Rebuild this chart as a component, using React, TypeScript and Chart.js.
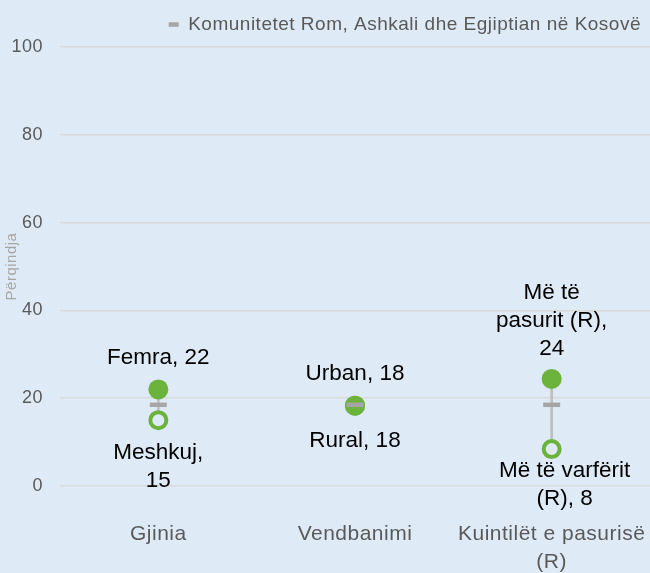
import React, { useEffect, useRef } from "react";
import { Chart, registerables } from "chart.js";

Chart.register(...registerables);

// ---- data ----
const categories: (string | string[])[] = ["Gjinia", "Vendbanimi", ["Kuintilët e pasurisë", "(R)"]];
const totalValues = [18.5, 18.5, 18.5];
const highValues = [22, 18.3, 24.4];
const lowValues = [15, 18.3, 8.4];
const highLabels = [["Femra, 22"], ["Urban, 18"], ["Më të", "pasurit (R),", "24"]];
const lowLabels = [["Meshkuj,", "15"], ["Rural, 18"], ["Më të varfërit", "(R), 8"]];
const yTicks = [0, 20, 40, 60, 80, 100];
const seriesName = "Komunitetet Rom, Ashkali dhe Egjiptian në Kosovë";
const axisTitle = "Përqindja";

// ---- styles ----
const FONT = '"Liberation Sans", Arial, sans-serif';
const BG = "#deebf7";
const GREEN = "#6cb33e";
const DASH = "#a6a6a6";
const RANGE = "#bfbfbf";
const GRID = "#d9d9d9";
const TEXT = "#595959";

const spacingPlugin = {
  id: "spacing",
  beforeLayout(chart: any) {
    chart.ctx.letterSpacing = "0.5px";
  },
  afterLayout(chart: any) {
    const lg = chart.legend;
    if (lg) {
      lg.left += 9;
      lg.right += 9;
      lg.top -= 3;
      lg.bottom -= 3;
    }
  },
  beforeDraw(chart: any) {
    chart.ctx.letterSpacing = "0.5px";
  },
};

const labelPlugin = {
  id: "pointLabels",
  afterDatasetsDraw(chart: any, _args: any, opts: any) {
    const ctx = chart.ctx;
    ctx.save();
    ctx.letterSpacing = "0px";
    ctx.font = `22.5px ${FONT}`;
    ctx.fillStyle = "#000000";
    ctx.textAlign = "center";
    ctx.textBaseline = "middle";
    const lh = opts.lineHeight;
    const hi = chart.getDatasetMeta(1).data;
    const lo = chart.getDatasetMeta(2).data;
    hi.forEach((p: any, i: number) => {
      const lines = highLabels[i];
      const off = opts.high[i];
      const lastY = p.y + off.dy;
      lines.forEach((t, j) => {
        ctx.fillText(t, p.x + off.dx, lastY - (lines.length - 1 - j) * lh);
      });
    });
    lo.forEach((p: any, i: number) => {
      const lines = lowLabels[i];
      const off = opts.low[i];
      const firstY = p.y + off.dy;
      lines.forEach((t, j) => {
        ctx.fillText(t, p.x + off.dx, firstY + j * lh);
      });
    });
    ctx.restore();
  },
};

export default function App() {
  const ref = useRef<HTMLCanvasElement>(null);

  useEffect(() => {
    if (!ref.current) return;
    const chart = new Chart(ref.current, {
      type: "bar",
      data: {
        labels: categories as any,
        datasets: [
          {
            type: "line",
            label: seriesName,
            data: totalValues,
            showLine: false,
            pointStyle: "line",
            pointRadius: 8.5,
            pointHoverRadius: 8.5,
            pointBorderWidth: 4.5,
            borderWidth: 4.5,
            pointBorderColor: DASH,
            borderColor: DASH,
            backgroundColor: DASH,
            order: 0,
          } as any,
          {
            type: "line",
            label: "high",
            data: highValues,
            showLine: false,
            pointStyle: "circle",
            pointRadius: 10,
            pointHoverRadius: 10,
            pointBackgroundColor: GREEN,
            pointBorderColor: GREEN,
            pointBorderWidth: 0,
            order: 1,
          } as any,
          {
            type: "line",
            label: "low",
            data: lowValues,
            showLine: false,
            pointStyle: "circle",
            pointRadius: 8,
            pointHoverRadius: 8,
            pointBackgroundColor: BG,
            pointBorderColor: GREEN,
            pointBorderWidth: 4,
            order: 2,
          } as any,
          {
            type: "bar",
            label: "range",
            data: lowValues.map((v, i) => [v, highValues[i]]),
            backgroundColor: RANGE,
            barThickness: 2,
            order: 3,
          } as any,
        ],
      },
      options: {
        animation: false,
        responsive: true,
        maintainAspectRatio: false,
        layout: { autoPadding: false, padding: { top: 0, left: 0, right: 0, bottom: 0 } },
        plugins: {
          tooltip: { enabled: false },
          legend: {
            position: "top",
            align: "end",
            labels: {
              filter: (item: any) => item.datasetIndex === 0,
              usePointStyle: true,
              pointStyleWidth: 10,
              boxHeight: 8,
              color: TEXT,
              font: { size: 19, family: FONT },
              padding: 18,
            },
          },
          pointLabels: {
            lineHeight: 28,
            high: [
              { dx: 0, dy: -32 },
              { dx: 0, dy: -32 },
              { dx: 0, dy: -30 },
            ],
            low: [
              { dx: 0, dy: 33 },
              { dx: 0, dy: 35 },
              { dx: 13, dy: 22 },
            ],
          },
        } as any,
        scales: {
          x: {
            type: "category",
            grid: { display: false },
            border: { display: false },
            ticks: {
              color: TEXT,
              font: { size: 21, family: FONT, lineHeight: 1.3 },
              padding: 27,
              maxRotation: 0,
              minRotation: 0,
              autoSkip: false,
            },
            afterFit(s: any) {
              s.height = 87;
              s.paddingLeft = 0;
              s.paddingRight = 0;
            },
          },
          y: {
            type: "linear",
            min: 0,
            max: 100,
            afterBuildTicks(s: any) {
              s.ticks = yTicks.map((v) => ({ value: v }));
            },
            ticks: {
              color: TEXT,
              font: { size: 18, family: FONT },
              padding: 17,
            },
            grid: { color: GRID, drawTicks: false, lineWidth: 1.5 },
            border: { display: false },
            title: {
              display: true,
              text: axisTitle,
              color: DASH,
              font: { size: 15, family: FONT },
              padding: { top: 3, bottom: 0 },
            },
            afterFit(s: any) {
              s.width = 60;
            },
          },
        },
      } as any,
      plugins: [spacingPlugin, labelPlugin],
    });
    return () => chart.destroy();
  }, []);

  return (
    <div
      style={{
        position: "fixed",
        left: 0,
        top: 0,
        width: 650,
        height: 573,
        background: BG,
      }}
    >
      <canvas ref={ref} />
    </div>
  );
}
